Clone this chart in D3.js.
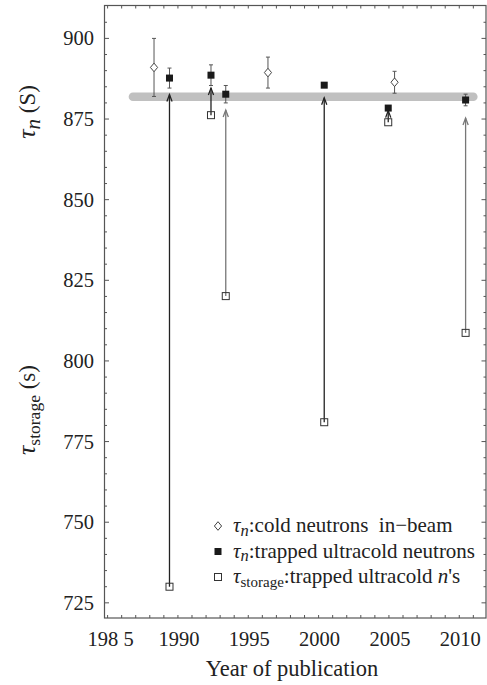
<!DOCTYPE html>
<html>
<head>
<meta charset="utf-8">
<script src="https://cdn.jsdelivr.net/npm/d3@7"></script>
<style>
  html, body { margin: 0; padding: 0; background: #fff; }
  svg text { font-family: 'Liberation Serif', 'Times New Roman', serif; fill: #222; }
</style>
</head>
<body>
<div id="chart"></div>
<script>
// tau_n from cold neutron beam experiments
const beamYears = [1988.3, 1996.4, 2005.4];
const beamTau = [891.0, 889.4, 886.4];
const beamErr = [9.0, 4.8, 3.4];

// tau_n from trapped ultracold neutrons
const trapYears = [1989.4, 1992.35, 1993.4, 2000.4, 2004.95, 2010.45];
const trapTau = [887.7, 888.6, 882.7, 885.5, 878.4, 880.9];
const trapErr = [3.1, 3.2, 2.7, 0, 0, 1.8];

// raw storage times (same experiments) and where the correction arrow ends
const storageTau = [730.0, 876.2, 820.1, 781.0, 874.0, 808.7];
const arrowTip = [882.6, 884.6, 877.8, 881.6, 877.6, 875.3];

// world average band
const bandYears = [1986.8, 2011.0];
const bandTau = 881.9;

const xTicks = [1985, 1990, 1995, 2000, 2005, 2010];
const xTickLabels = ["198 5", "1990", "1995", "2000", "2005", "2010"];
const yTicks = [725, 750, 775, 800, 825, 850, 875, 900];

const legendLabels = [
  {sym: "diamond", sub: "n", subItalic: true, rest: ":cold neutrons  in\u2212beam"},
  {sym: "filled", sub: "n", subItalic: true, rest: ":trapped ultracold neutrons"},
  {sym: "open", sub: "storage", subItalic: false, rest: ":trapped ultracold ", ital: "n", tail: "'s"}
];

const W = 487, H = 685;
const margin = {left: 104.5, top: 5.5, right: 1, bottom: 67};
const iw = W - margin.left - margin.right;
const ih = H - margin.top - margin.bottom;

const svg = d3.select("#chart").append("svg")
  .attr("width", W).attr("height", H)
  .attr("font-family", "'Liberation Serif', 'Times New Roman', serif");

const g = svg.append("g").attr("transform", `translate(${margin.left},${margin.top})`);

const x = d3.scaleLinear().domain([1984.78, 2011.9]).range([0, iw]);
const y = d3.scaleLinear().domain([720.3, 910.2]).range([ih, 0]);

const frameColor = "#555";

// gray band
g.append("line")
  .attr("x1", x(bandYears[0])).attr("x2", x(bandYears[1]))
  .attr("y1", y(bandTau)).attr("y2", y(bandTau))
  .attr("stroke", "#c0c0c0").attr("stroke-width", 8.5).attr("stroke-linecap", "round");

// ticks on all four sides, pointing inward
const yMinor = d3.range(725, 910, 5);
const xMinor = d3.range(1985, 2012, 1);

function yTickLen(v) { return yTicks.includes(v) ? 4.5 : 2.5; }

g.append("g").selectAll("line").data(yMinor).join("line")
  .attr("x1", 0).attr("x2", d => yTickLen(d))
  .attr("y1", d => y(d)).attr("y2", d => y(d))
  .attr("stroke", frameColor);
g.append("g").selectAll("line").data(yMinor).join("line")
  .attr("x1", iw).attr("x2", d => iw - yTickLen(d))
  .attr("y1", d => y(d)).attr("y2", d => y(d))
  .attr("stroke", frameColor);
g.append("g").selectAll("line").data(xMinor).join("line")
  .attr("x1", d => x(d)).attr("x2", d => x(d))
  .attr("y1", ih).attr("y2", ih - 3)
  .attr("stroke", frameColor);
g.append("g").selectAll("line").data(xMinor).join("line")
  .attr("x1", d => x(d)).attr("x2", d => x(d))
  .attr("y1", 0).attr("y2", 3)
  .attr("stroke", frameColor);

// frame
g.append("rect").attr("width", iw).attr("height", ih)
  .attr("fill", "none").attr("stroke", frameColor).attr("stroke-width", 1.2);

// tick labels
g.append("g").selectAll("text").data(yTicks).join("text")
  .attr("x", -10.5).attr("y", d => y(d)).attr("dy", "0.34em")
  .attr("text-anchor", "end").attr("font-size", 20.5)
  .text(d => d);

g.append("g").selectAll("text").data(xTicks).join("text")
  .attr("x", (d, i) => x(d) + (i === 0 ? 3 : 1)).attr("y", ih + 27.5)
  .attr("text-anchor", "middle").attr("font-size", 20.5)
  .style("white-space", "pre")
  .text((d, i) => xTickLabels[i]);

// axis titles
svg.append("text")
  .attr("x", 292).attr("y", 676)
  .attr("text-anchor", "middle").attr("font-size", 22.5)
  .text("Year of publication");

function yTitle(cy, sub, subItalic, unit) {
  const t = svg.append("text")
    .attr("transform", `translate(35,${cy}) rotate(-90)`)
    .attr("text-anchor", "middle").attr("font-size", 26);
  t.append("tspan").attr("font-style", "italic").text("\u03c4");
  t.append("tspan").attr("font-style", subItalic ? "italic" : "normal")
    .attr("font-size", subItalic ? 21 : 17.5).attr("dy", 4.5).text(sub);
  t.append("tspan").attr("dy", -4.5).attr("font-size", 23).text("\u00a0(" + unit + ")");
}
yTitle(112, "n", true, "S");
yTitle(410, "storage", false, "s");

// correction arrows: storage time -> neutron lifetime
const darkArrow = [true, true, false, true, true, false];
const arrows = g.append("g");
trapYears.forEach((yr, i) => {
  const col = darkArrow[i] ? "#222" : "#777";
  const ax = x(yr), y0 = y(storageTau[i]), y1 = y(arrowTip[i]);
  arrows.append("line")
    .attr("x1", ax).attr("x2", ax).attr("y1", y0).attr("y2", y1)
    .attr("stroke", col).attr("stroke-width", 1.3);
  arrows.append("path")
    .attr("d", `M${ax - 2.6},${y1 + 7} L${ax},${y1} L${ax + 2.6},${y1 + 7}`)
    .attr("fill", "none").attr("stroke", col).attr("stroke-width", 1.3);
});

// error bars
function errorBars(years, vals, errs) {
  const eb = g.append("g").attr("stroke", "#555").attr("stroke-width", 1);
  years.forEach((yr, i) => {
    if (!errs[i]) return;
    const ex = x(yr), top = y(vals[i] + errs[i]), bot = y(vals[i] - errs[i]);
    eb.append("line").attr("x1", ex).attr("x2", ex).attr("y1", top).attr("y2", bot);
    eb.append("line").attr("x1", ex - 2).attr("x2", ex + 2).attr("y1", top).attr("y2", top);
    eb.append("line").attr("x1", ex - 2).attr("x2", ex + 2).attr("y1", bot).attr("y2", bot);
  });
}
errorBars(beamYears, beamTau, beamErr);
errorBars(trapYears, trapTau, trapErr);

// symbols
function drawSym(sel, kind, cx, cy) {
  if (kind === "diamond") {
    sel.append("path")
      .attr("d", `M${cx},${cy - 4.3} L${cx + 3.6},${cy} L${cx},${cy + 4.3} L${cx - 3.6},${cy} Z`)
      .attr("fill", "#fff").attr("stroke", "#444").attr("stroke-width", 1);
  } else if (kind === "filled") {
    sel.append("rect").attr("x", cx - 3.5).attr("y", cy - 3.5)
      .attr("width", 7).attr("height", 7).attr("fill", "#1a1a1a");
  } else {
    sel.append("rect").attr("x", cx - 3.5).attr("y", cy - 3.5)
      .attr("width", 7).attr("height", 7)
      .attr("fill", "none").attr("stroke", "#333").attr("stroke-width", 1);
  }
}

const marks = g.append("g");
beamYears.forEach((yr, i) => drawSym(marks, "diamond", x(yr), y(beamTau[i])));
trapYears.forEach((yr, i) => drawSym(marks, "filled", x(yr), y(trapTau[i])));
trapYears.forEach((yr, i) => drawSym(marks, "open", x(yr), y(storageTau[i])));

// legend
const legend = svg.append("g");
legendLabels.forEach((d, i) => {
  const ry = 526 + i * 25.5;
  drawSym(legend, d.sym, 218, ry);
  const t = legend.append("text").attr("x", 233).attr("y", ry + 6).attr("font-size", 21);
  t.append("tspan").attr("font-style", "italic").text("\u03c4");
  t.append("tspan").attr("font-style", d.subItalic ? "italic" : "normal")
    .attr("font-size", d.subItalic ? 16.5 : 15).attr("dy", 3.5).text(d.sub);
  t.append("tspan").attr("dy", -3.5).style("white-space", "pre").text(d.rest);
  if (d.ital) {
    t.append("tspan").attr("font-style", "italic").text(d.ital);
    t.append("tspan").text(d.tail);
  }
});
</script>
</body>
</html>
